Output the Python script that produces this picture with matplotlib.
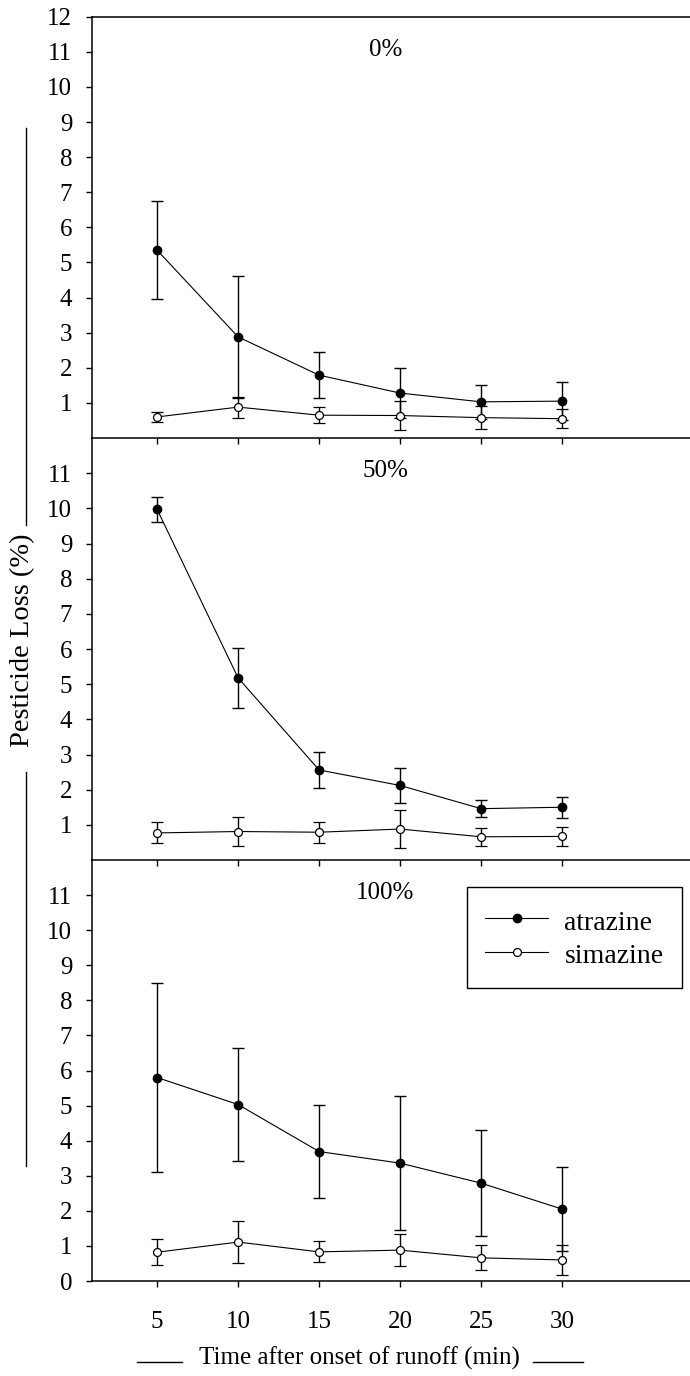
"""
Atrazine / simazine loss in runoff for three residue-cover levels, stacked panels
"""

import numpy as np
import matplotlib
matplotlib.use('Agg')
import matplotlib.pyplot as plt
from matplotlib.lines import Line2D

# ================= style =================
font_family = ['Liberation Serif', 'DejaVu Serif']
tick_fontsize = 18
label_fontsize = 18
ylabel_fontsize = 20.5
legend_fontsize = 20
axes_linewidth = 1.1
data_linewidth = 0.8
marker_size = 6.0

plt.rcParams.update({
    'font.family': font_family,
    'font.size': tick_fontsize,
    'axes.linewidth': axes_linewidth,
    'xtick.direction': 'out',
    'ytick.direction': 'out',
    'xtick.major.size': 4.2,
    'ytick.major.size': 4.5,
    'xtick.major.width': 1.0,
    'ytick.major.width': 1.0,
    'xtick.major.pad': 17.5,
    'ytick.major.pad': 10,
    'xtick.labelsize': tick_fontsize,
    'ytick.labelsize': tick_fontsize,
})

# ================= data =================
time_min = [5, 10, 15, 20, 25, 30]
panel_labels = ['0%', '50%', '100%']

# 0 % cover
atr_0 = [5.35, 2.88, 1.79, 1.28, 1.03, 1.05]
atr_0_err = [1.39, 1.73, 0.65, 0.72, 0.49, 0.54]
sim_0 = [0.60, 0.88, 0.65, 0.64, 0.58, 0.55]
sim_0_err = [0.15, 0.30, 0.23, 0.40, 0.32, 0.27]

# 50 % cover
atr_50 = [9.97, 5.18, 2.56, 2.12, 1.46, 1.50]
atr_50_err = [0.35, 0.85, 0.52, 0.49, 0.25, 0.30]
sim_50 = [0.77, 0.81, 0.79, 0.88, 0.66, 0.67]
sim_50_err = [0.30, 0.40, 0.30, 0.53, 0.26, 0.27]

# 100 % cover
atr_100 = [5.80, 5.03, 3.69, 3.36, 2.79, 2.05]
atr_100_err = [2.70, 1.62, 1.32, 1.90, 1.51, 1.20]
sim_100 = [0.82, 1.11, 0.83, 0.88, 0.66, 0.60]
sim_100_err = [0.37, 0.61, 0.30, 0.46, 0.36, 0.43]

atr_sets = [(atr_0, atr_0_err), (atr_50, atr_50_err), (atr_100, atr_100_err)]
sim_sets = [(sim_0, sim_0_err), (sim_50, sim_50_err), (sim_100, sim_100_err)]

y_ticks_per_panel = [list(range(1, 13)), list(range(1, 12)), list(range(0, 12))]
x_ticks = [5, 10, 15, 20, 25, 30]

# ================= figure =================
fig = plt.figure(figsize=(6.9, 13.76), dpi=100)

W, H = 690.0, 1376.0
ax_left = 92.3 / W
ax_width = 1.0 - ax_left
panel_edges = [16.7, 438.0, 860.0, 1281.0]  # pixel rows of panel borders

axes = []
for i in range(3):
    top_px, bot_px = panel_edges[i], panel_edges[i + 1]
    ax = fig.add_axes([ax_left, 1 - bot_px / H, ax_width, (bot_px - top_px) / H])
    axes.append(ax)

for i, ax in enumerate(axes):
    atr, atr_err = atr_sets[i]
    sim, sim_err = sim_sets[i]

    ax.errorbar(time_min, atr, yerr=atr_err, color='black', lw=data_linewidth,
                elinewidth=1.0, capsize=4.2, capthick=1.0,
                marker='o', ms=marker_size, mfc='black', mec='black',
                label='atrazine', zorder=3)
    ax.errorbar(time_min, sim, yerr=sim_err, color='black', lw=data_linewidth,
                elinewidth=1.0, capsize=4.2, capthick=1.0,
                marker='o', ms=marker_size * 0.95, mfc='white', mec='black',
                mew=0.9, label='simazine', zorder=3)

    ax.set_xlim(1.0, 37.9)
    ax.set_ylim(0, 12)
    ax.set_yticks(y_ticks_per_panel[i])
    ax.set_xticks(x_ticks)
    if i < 2:
        ax.tick_params(axis='x', labelbottom=False)

    ax.spines['right'].set_visible(False)
    if i > 0:
        ax.spines['top'].set_visible(False)
    ax.tick_params(top=False, right=False)
    ax.patch.set_alpha(0)

    ax.text(19.1, 11.05, panel_labels[i], ha='center', va='center',
            fontsize=label_fontsize)

# legend in the bottom panel
handles = [
    Line2D([], [], color='black', lw=data_linewidth, marker='o',
           ms=marker_size, mfc='black', mec='black'),
    Line2D([], [], color='black', lw=data_linewidth, marker='o',
           ms=marker_size * 0.95, mfc='white', mec='black', mew=0.9),
]
leg = axes[2].legend(handles, ['atrazine', 'simazine'], loc='upper left',
                     bbox_to_anchor=(0.6264, 0.935), borderaxespad=0,
                     fontsize=legend_fontsize, frameon=True, fancybox=False,
                     edgecolor='black', framealpha=1, numpoints=1,
                     handlelength=2.27, handleheight=1.22, handletextpad=0.58,
                     borderpad=0.67, labelspacing=0.14)
leg.get_frame().set_linewidth(1.0)

# axis titles with rule lines either side
fig.text(23 / W, 1 - 640 / H, 'Pesticide Loss (%)', rotation=90,
         ha='center', va='center', fontsize=ylabel_fontsize)
for y0, y1 in [(128, 525), (772, 1166)]:
    fig.add_artist(Line2D([26 / W, 26 / W], [1 - y0 / H, 1 - y1 / H],
                          transform=fig.transFigure, color='black', lw=1.0))

fig.text(359 / W, 1 - 1358 / H, 'Time after onset of runoff (min)',
         ha='center', va='center', fontsize=label_fontsize)
for x0, x1 in [(137, 182), (533, 583)]:
    fig.add_artist(Line2D([x0 / W, x1 / W], [1 - 1361.7 / H, 1 - 1361.7 / H],
                          transform=fig.transFigure, color='black', lw=1.0))

fig.savefig('out.png', dpi=100, facecolor='white')
